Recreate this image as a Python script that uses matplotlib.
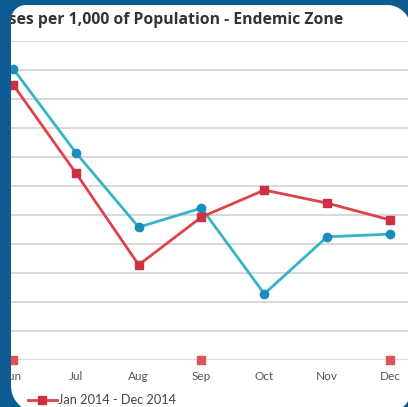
import numpy as np
import matplotlib
matplotlib.use('Agg')
import matplotlib.pyplot as plt
from matplotlib.path import Path
from matplotlib.patches import PathPatch
from matplotlib.lines import Line2D
from matplotlib.transforms import IdentityTransform

months = ['Jun', 'Jul', 'Aug', 'Sep', 'Oct', 'Nov', 'Dec']
blue_vals = [10.05, 7.15, 4.58, 5.24, 2.28, 4.25, 4.34]   # other period (legend cut off)
red_vals = [9.5, 6.45, 3.28, 4.93, 5.86, 5.41, 4.83]      # Jan 2014 - Dec 2014
base_vals = [0, 0, 0, 0, 0, 0, 0]                          # third series, sits on zero
red_label = 'Jan 2014 - Dec 2014'
title = 'Cases per 1,000 of Population - Endemic Zone'

W, H = 408, 407
frame_blue = '#0d5b93'

fig = plt.figure(figsize=(W / 100, H / 100), dpi=100)
fig.patch.set_facecolor('white')

# axes placed in pixels: Jun at x=13, 62.83px per month, zero at y=360, 29px per unit
step = 62.83
ax = fig.add_axes([0, (H - 360) / H, 1, (360 - 41) / H])
ax.set_xlim(-13 / step, (W - 13) / step)
ax.set_ylim(0, 11)
x = np.arange(len(months))

ax.set_yticks(range(12))
ax.set_yticklabels([])
ax.grid(axis='y', color='#d6d6d6', linewidth=1.3)
ax.set_axisbelow(True)
for s in ax.spines.values():
    s.set_visible(False)
ax.tick_params(length=0)
ax.set_xticks(x)
ax.set_xticklabels(months, fontsize=8.5, color='#555555', family='Lato')
ax.tick_params(axis='x', pad=8)

ax.plot(x, blue_vals, color='#35b4c6', linewidth=2, marker='o', markersize=6,
        markerfacecolor='#1a8dbb', markeredgecolor='#1a8dbb', clip_on=False, zorder=3)
ax.plot(x, red_vals, color='#e0424a', linewidth=2, marker='s', markersize=6,
        markerfacecolor='#cf2f42', markeredgecolor='#cf2f42', clip_on=False, zorder=4)
ax.plot(x, base_vals, linestyle='none', marker='s', markersize=6, markevery=3,
        markerfacecolor='#e05058', markeredgecolor='#e05058', clip_on=False, zorder=4)

fig.text(343 / W, 1 - 20 / H, title, ha='right', va='center', fontsize=11.3,
         fontweight='bold', color='#333333', family='Open Sans')

h = Line2D([], [], color='#e0424a', linewidth=2, marker='s', markersize=6,
           markerfacecolor='#cf2f42', markeredgecolor='#cf2f42')
fig.legend([h], [red_label], loc='center left', bbox_to_anchor=(22 / W, 1 - 400 / H),
           frameon=False, handlelength=2.2, handletextpad=0.1,
           borderpad=0, labelcolor='#444444', prop={'family': 'Lato', 'size': 9.2})


# blue frame around a rounded white panel (pixel coords, origin bottom-left)
def rounded_rect(l, b, r, t, rad):
    pts = []
    for cx, cy, a0, rr in [(r - rad[1], t - rad[1], 0, rad[1]),
                           (l + rad[0], t - rad[0], 90, rad[0]),
                           (l + rad[2], b + rad[2], 180, rad[2]),
                           (r - rad[3], b + rad[3], 270, rad[3])]:
        a = np.radians(np.linspace(a0, a0 + 90, 20))
        pts += list(zip(cx + rr * np.cos(a), cy + rr * np.sin(a)))
    return pts


inner = rounded_rect(11, H - 412, 411, H - 5, [15, 24, 26, 22])
outer = [(-10, -10), (W + 10, -10), (W + 10, H + 10), (-10, H + 10)]
inner_r = inner[::-1]
verts = outer + [outer[0]] + inner_r + [inner_r[0]]
codes = ([Path.MOVETO] + [Path.LINETO] * 3 + [Path.CLOSEPOLY] +
         [Path.MOVETO] + [Path.LINETO] * (len(inner_r) - 1) + [Path.CLOSEPOLY])
frame = PathPatch(Path(verts, codes), facecolor=frame_blue, edgecolor='none',
                  transform=IdentityTransform(), zorder=10)
fig.add_artist(frame)

fig.savefig('out.png', dpi=100)
